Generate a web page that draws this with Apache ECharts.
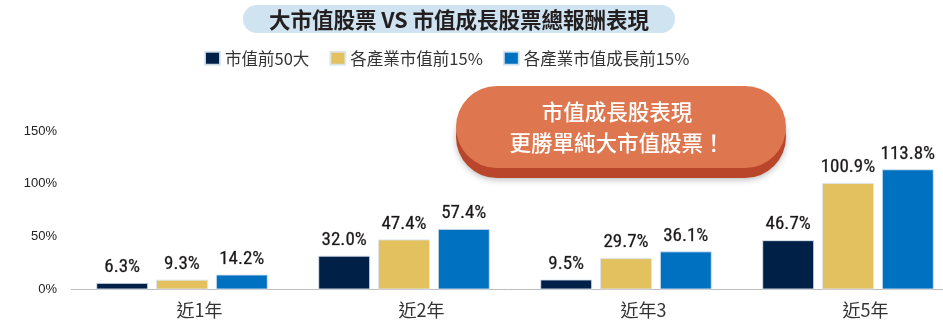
<!DOCTYPE html>
<html>
<head>
<meta charset="utf-8">
<style>
  html, body { margin: 0; padding: 0; background: #ffffff; }
  #chart { width: 943px; height: 322px; }
</style>
<script src="https://cdn.jsdelivr.net/npm/echarts@6/dist/echarts.min.js"></script>
</head>
<body>
<div id="chart"></div>
<script>
// Periods on the x axis
const categories = ['近1年', '近2年', '近年3', '近5年'];

// Total return (%) for each group of stocks
const seriesNames = ['市值前50大', '各產業市值前15%', '各產業市值成長前15%'];
const top50 = [6.3, 32.0, 9.5, 46.7];
const top15Cap = [9.3, 47.4, 29.7, 100.9];
const top15Growth = [14.2, 57.4, 36.1, 113.8];

// Y axis ticks
const yTicks = [0, 50, 100, 150];

const titleText = '大市值股票 VS 市值成長股票總報酬表現';
const calloutLines = ['市值成長股表現', '更勝單純大市值股票！'];

const colors = ['#002048', '#e2c15e', '#0070c0'];
const cjk = '"Noto Sans CJK TC", "Noto Sans CJK SC", sans-serif';
const narrow = '"Roboto Condensed", "Liberation Sans Narrow", sans-serif';

const chart = echarts.init(document.getElementById('chart'), null, { renderer: 'canvas' });

function barSeries(name, data, color) {
  return {
    name: name,
    type: 'bar',
    data: data,
    barWidth: 52,
    barGap: '15%',
    itemStyle: { color: color, borderColor: 'rgba(220,230,240,0.9)', borderWidth: 1 },
    label: {
      show: true,
      position: 'top',
      distance: 6,
      formatter: p => p.value.toFixed(1) + '%',
      fontFamily: narrow,
      fontSize: 19,
      fontWeight: 'normal',
      color: '#1a1718',
      textBorderColor: 'rgba(26,23,24,0.6)',
      textBorderWidth: 0.4
    }
  };
}

chart.setOption({
  animation: false,
  backgroundColor: '#ffffff',
  color: colors,
  grid: { left: 71, right: -16, top: 131, bottom: 32.5, outerBoundsMode: 'none' },
  legend: {
    data: seriesNames,
    top: 45,
    left: 199,
    itemWidth: 15,
    itemHeight: 13,
    itemGap: 20,
    icon: 'rect',
    textStyle: { fontFamily: cjk, fontSize: 16.5, color: '#333333' }
  },
  xAxis: {
    type: 'category',
    data: categories,
    axisLine: { lineStyle: { color: '#bdbdbd', width: 1 } },
    axisTick: { show: false },
    axisLabel: {
      fontFamily: cjk,
      fontSize: 18,
      color: '#333333',
      margin: 12,
      padding: [0, 0, 0, 35]
    }
  },
  yAxis: {
    type: 'value',
    min: yTicks[0],
    max: yTicks[yTicks.length - 1],
    interval: 50,
    splitLine: { show: false },
    axisLine: { show: false },
    axisTick: { show: false },
    axisLabel: {
      margin: 14,
      fontFamily: '"Liberation Sans", Arial, sans-serif',
      fontSize: 13,
      color: '#222222',
      formatter: v => v + '%'
    }
  },
  series: [
    barSeries(seriesNames[0], top50, colors[0]),
    barSeries(seriesNames[1], top15Cap, colors[1]),
    barSeries(seriesNames[2], top15Growth, colors[2])
  ],
  graphic: [
    // title pill
    {
      type: 'rect',
      shape: { x: 243, y: 5, width: 432, height: 28, r: 14 },
      style: { fill: '#cfe3f1' },
      z: 1
    },
    {
      type: 'text',
      style: {
        x: 459, y: 19.5,
        text: titleText,
        align: 'center',
        verticalAlign: 'middle',
        fontFamily: cjk,
        fontSize: 21.5,
        fontWeight: 'bold',
        fill: '#231f20'
      },
      z: 2
    },
    // callout: darker base pill under the orange one
    {
      type: 'rect',
      shape: { x: 456, y: 95, width: 330, height: 83, r: 41 },
      style: { fill: '#b9462a', shadowBlur: 6, shadowColor: 'rgba(0,0,0,0.25)', shadowOffsetY: 2 },
      z: 10
    },
    {
      type: 'rect',
      shape: { x: 456, y: 86, width: 330, height: 82, r: 41 },
      style: { fill: '#de774f' },
      z: 11
    },
    {
      type: 'text',
      style: {
        x: 617, y: 112,
        text: calloutLines[0],
        align: 'center',
        verticalAlign: 'middle',
        fontFamily: cjk,
        fontSize: 21.5,
        fontWeight: 500,
        fill: '#ffffff'
      },
      z: 12
    },
    {
      type: 'text',
      style: {
        x: 617, y: 143,
        text: calloutLines[1],
        align: 'center',
        verticalAlign: 'middle',
        fontFamily: cjk,
        fontSize: 21.5,
        fontWeight: 500,
        fill: '#ffffff'
      },
      z: 12
    }
  ]
});
</script>
</body>
</html>
